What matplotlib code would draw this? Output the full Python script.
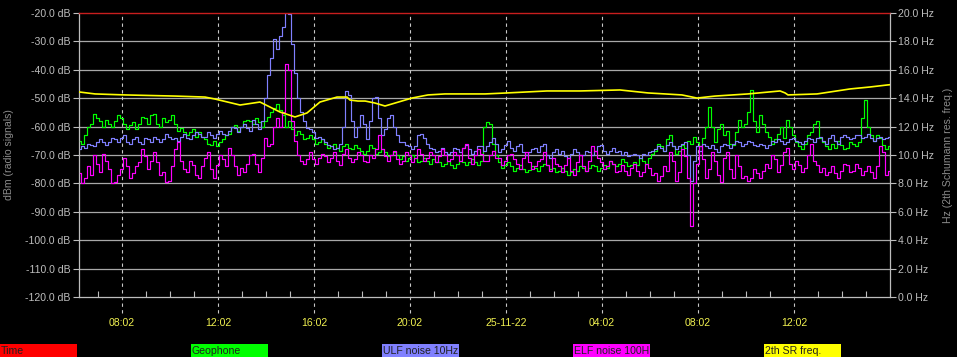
import numpy as np
import matplotlib
matplotlib.use("Agg")
import matplotlib.pyplot as plt
from matplotlib.patches import Rectangle

plt.rcParams['font.family'] = ['Liberation Sans', 'DejaVu Sans']

# ---------------- data ----------------
# time axis: hours after 06:02 on 24-11-22, readings every 7.5 minutes
t_start, t_end = 0.25, 34.0
xlim_hours = (0.21, 34.0)

geophone = [
    -65, -66, -63, -60, -59, -55.5, -57, -58, -60, -57.5, -59, -60, -58, -56, -57, -59,
    -61, -59.5, -58.5, -61, -59, -56.5, -57, -59, -56, -55.5, -59, -60, -57, -58.5, -57.5, -56,
    -59, -61.5, -60.5, -62, -63, -62, -61, -63.5, -62, -63.5, -64.5, -66, -66.5, -65, -67, -65.5,
    -64.5, -63, -62.5, -60, -59.5, -61.5, -60, -58, -57.5, -58, -59, -57, -58.5, -60, -58, -56.5,
    -55, -53.5, -52, -54, -56, -60, -58, -61, -63, -61.5, -62.5, -64.5, -64, -63, -64.5, -66,
    -65.5, -64.5, -66, -67.5, -67, -66, -67.5, -68.5, -67, -66, -67.5, -68, -66.5, -67.5, -68.5, -69.5,
    -68.5, -66.5, -67.5, -69.5, -69, -68, -69, -70.5, -70, -69, -70, -71.5, -70.5, -72, -71, -70,
    -71, -72.5, -72, -71, -72, -73, -71.5, -72.5, -72.5, -74, -73, -72, -73.5, -74.5, -73, -72,
    -72.5, -73.5, -72.5, -71.5, -72.5, -73.5, -72, -60, -58.5, -59, -66, -70, -72.5, -74.5, -73.5, -72.5,
    -74, -75.5, -74.5, -73.5, -75, -76, -75.3, -74, -74.5, -75.5, -74, -73, -73.5, -75, -74.5, -76,
    -75.5, -74.5, -75.5, -77, -76, -75, -75.5, -74, -74.5, -75.5, -74.5, -73.5, -74, -75.5, -74.5, -73.5,
    -74.5, -72, -73, -74, -73, -71.5, -72.5, -74, -73.5, -72.5, -73.5, -71, -72, -73, -71, -69.5,
    -68.5, -66, -67, -68.5, -64.5, -63, -67, -69.5, -68.5, -66.5, -67.5, -65, -66, -63.5, -65.5, -67,
    -64, -60, -53, -60, -65.5, -61, -59, -63, -61.5, -66, -66.5, -62, -57.5, -60, -59, -55,
    -47, -58, -62, -56, -59, -62, -63.5, -66, -64.5, -62.5, -60, -64, -57.5, -60, -63, -65.5,
    -67, -68, -66, -63, -62, -59, -58, -64, -65.5, -67, -68, -66, -67.5, -65, -66.5, -68,
    -67.5, -65.5, -66, -67, -65.5, -57, -50.5, -60, -63, -65, -63, -64, -66.5, -68, -67,
]

ulf_noise = [
    -68, -67, -67.5, -66, -66.5, -67, -65.5, -64.5, -65.5, -66.5, -65.5, -64, -64.5, -65.5, -64, -63,
    -65.5, -66, -64.5, -63.5, -65.5, -66, -64, -64.5, -65.5, -63.5, -64.5, -65.5, -64.5, -62.5, -63.5, -64.5,
    -64, -65, -63.5, -62.5, -64, -64.5, -63, -62, -62.5, -63.5, -63.5, -62, -63, -64, -62.5, -61.5,
    -62.5, -63, -61.5, -60, -60.5, -62, -60, -59, -60.5, -61.5, -57.5, -59, -61, -58, -50, -42,
    -36, -29, -32.5, -28, -25, -20, -20.5, -31, -41, -50, -55, -58, -60.5, -61, -62, -64,
    -63.5, -64.5, -65.5, -66.5, -67, -68, -67.5, -66, -60, -47.5, -49, -58, -63.5, -60, -56, -59,
    -64.5, -58, -50, -49.5, -57, -63, -61, -57, -56, -60, -63, -65.5, -65.5, -66.5, -67, -68,
    -67, -63, -62.5, -64, -66, -67.5, -68, -69, -68.5, -67.5, -69, -69.5, -69, -67.5, -68, -69,
    -67.5, -66.5, -68, -69.5, -68.5, -67, -67, -68.5, -67, -65.5, -64, -66, -69, -68, -66.5, -65,
    -67.5, -68.5, -67, -66, -69, -70, -69, -68, -67.5, -69, -67, -66, -70, -71, -69, -68,
    -69.5, -68.5, -70.5, -71, -69.5, -68, -69, -70, -70, -68.5, -69, -70, -68.5, -67, -66.5, -68.5,
    -69.5, -68.5, -67.5, -69, -68.5, -70, -69, -70.5, -70, -69.5, -70, -71, -69.5, -70, -69, -68.5,
    -68, -67, -67.5, -68.5, -66.5, -65.5, -67, -68, -67, -66, -65.5, -70, -79, -72, -67, -68.5,
    -66, -67, -67.5, -66.5, -68, -69, -67, -66, -66.5, -67.5, -66, -65, -65.5, -67, -66, -65,
    -65.5, -66.5, -67, -66, -66.5, -67.5, -66.5, -65, -65.5, -64.5, -65, -66, -65.5, -64.5, -64, -65,
    -65.5, -66, -65, -64, -64.5, -65.5, -64, -63.5, -65, -66, -64, -63, -65, -66, -63.5, -63,
    -63.5, -64.5, -64, -63, -63, -64, -63.5, -62.5, -64, -65, -64, -63.5, -64.5, -64, -63.5,
]

elf_noise = [
    -76.5, -80, -78, -74, -77, -70, -73, -76, -69.5, -72, -75, -80, -79.5, -77, -75, -71,
    -74, -78, -76.5, -74, -72.5, -68, -70.5, -75, -72, -69, -72.5, -77, -76, -79.5, -79, -74,
    -68, -65.5, -72, -75, -76, -72, -73.5, -77, -78, -74, -71, -69, -75, -78, -73.5, -70,
    -71.5, -74, -67.5, -70, -74, -77, -74.5, -76, -73, -70, -69.5, -73, -76, -71, -64, -67,
    -66, -60, -57, -60, -55, -38, -40, -58, -65, -70, -72, -73, -71.5, -69, -71.5, -73,
    -71, -69.5, -70.5, -72.5, -71, -69, -72, -73.5, -69.5, -68, -71, -72.5, -71.5, -69, -70, -72,
    -72.5, -70, -71, -68, -63, -68, -70.5, -72, -70, -68.5, -71.5, -73, -72, -69, -70, -72.5,
    -71, -68, -69.5, -72, -71, -69, -70, -72.5, -70.5, -68, -70, -72, -71.5, -69, -70, -72,
    -67.5, -66, -71, -73, -70, -68, -69.5, -72, -72, -70, -68.5, -71, -71, -73.5, -72, -70,
    -69.5, -71.5, -73, -75, -71, -69, -72.5, -75, -74, -72, -71.5, -69, -73.5, -75.5, -71, -73,
    -74, -76, -73.5, -71, -75.5, -77, -72.5, -70, -74, -75.5, -72, -67, -68.5, -71, -72.5, -75,
    -74, -72, -73, -76, -75.5, -73.5, -75.5, -77, -74.5, -73, -75.5, -77.5, -76, -73, -74.5, -77,
    -76.5, -79, -77.5, -74, -75.5, -69, -72, -79, -76, -68, -70.5, -78, -95, -80, -73, -67,
    -71.5, -78, -75, -69, -72, -77, -79.5, -71, -69, -75, -78, -70, -74, -78, -77.5, -79,
    -78, -75, -76.5, -78, -75.5, -73, -74.5, -70, -71.5, -76, -73.5, -69, -67.5, -73, -75, -72,
    -73.5, -76, -74.5, -70, -66, -72, -73.5, -76, -74.5, -77, -76, -74, -76.5, -78, -75.5, -73,
    -73.5, -76, -75.5, -73, -74.5, -77, -75.5, -74, -76, -78, -74, -67, -69, -77, -75.5,
]

# 2nd Schumann resonance frequency (Hz), read at irregular times (hours after 06:02)
sr_hours = [0.21, 0.88, 2.13, 4.21, 5.46, 5.88, 6.92, 7.75, 8.58, 9.21, 9.71, 10.25, 10.96, 11.38,
            11.5, 11.83, 12.13, 12.54, 12.96, 13.38, 14.08, 14.75, 15.46, 17.13, 18.04, 19.71,
            21.08, 22.75, 23.92, 25.33, 25.96, 26.71, 28.08, 29.42, 29.63, 29.75, 30.96, 32.33,
            33.17, 33.88, 34.0]
sr_freq = [14.44, 14.30, 14.23, 14.15, 14.08, 13.94, 13.52, 13.73, 13.03, 12.68, 12.96, 13.73, 14.08,
           14.08, 13.87, 13.80, 13.80, 13.66, 13.45, 13.66, 14.01, 14.23, 14.30, 14.30, 14.37, 14.51,
           14.51, 14.58, 14.37, 14.23, 14.01, 14.15, 14.30, 14.51, 14.37, 14.23, 14.30, 14.65,
           14.79, 14.93, 14.95]

time_level = -20.0

major_hours = [2, 6, 10, 14, 18, 22, 26, 30]
major_labels = ["08:02", "12:02", "16:02", "20:02", "25-11-22", "04:02", "08:02", "12:02"]
minor_hours = [h for h in range(1, 34) if h not in major_hours]

db_ticks = list(range(-120, -10, 10))
hz_ticks = list(range(0, 22, 2))

legend_names = ["Time", "Geophone", "ULF noise 10Hz", "ELF noise 100H", "2th SR freq."]
legend_colors = ["#ff0000", "#00ff00", "#8080ff", "#ff00ff", "#ffff00"]

# ---------------- figure ----------------
W, H = 957, 357
fig = plt.figure(figsize=(W / 100, H / 100), dpi=100, facecolor="black")
x0, x1, ytop, ybot = 79, 890, 13, 297
ax = fig.add_axes([x0 / W, 1 - ybot / H, (x1 - x0) / W, (ybot - ytop) / H])
ax.set_facecolor("black")

grid_c = "#a8a8a8"
for v in db_ticks[1:-1]:
    ax.axhline(v, color=grid_c, lw=0.9, zorder=1)

ax.set_xlim(*xlim_hours)
ax.set_ylim(-120, -20)

# dashed vertical gridlines extending below the axis
ext = 16 / (ybot - ytop) * 100
ax.vlines(major_hours, -120 - ext, -20, colors="#c8c8c8", linestyles=(0, (3, 3)),
          lw=0.8, clip_on=False, zorder=1)

for series, col, z in [(geophone, "#00ff00", 3), (ulf_noise, "#8080ff", 4),
                       (elf_noise, "#ff00ff", 5)]:
    tt = np.linspace(t_start, t_end, len(series))
    ax.plot(tt, series, color=col, lw=0.85, drawstyle="steps-mid", zorder=z)
ax.axhline(time_level, color="#c81e1e", lw=1.0, clip_on=False, zorder=6)

ax.set_yticks(db_ticks)
ax.set_yticklabels([f"{v:.1f} dB" for v in db_ticks])
ax.set_xticks(major_hours)
ax.set_xticklabels(major_labels)
ax.set_xticks(minor_hours, minor=True)

lab_c = "#bdbdbd"
ax.tick_params(axis="y", direction="out", length=4.5, width=0.8, color=lab_c,
               labelcolor=lab_c, labelsize=7.6, pad=1.5)
ax.tick_params(axis="x", which="major", length=0, pad=15, labelcolor="#f0f050", labelsize=7.6)
ax.tick_params(axis="x", which="minor", direction="in", length=4.5, width=0.8, color=lab_c)

for s in ["left", "bottom", "right"]:
    ax.spines[s].set_color(lab_c)
    ax.spines[s].set_linewidth(0.9)
ax.spines["top"].set_visible(False)

ax2 = ax.twinx()
ax2.set_ylim(0, 20)
ax2.plot(sr_hours, sr_freq, color="#ffff00", lw=1.2, zorder=6)
ax2.set_yticks(hz_ticks)
ax2.set_yticklabels([f"{v:.1f} Hz" for v in hz_ticks])
ax2.tick_params(axis="y", direction="out", length=4.5, width=0.8, color=lab_c,
                labelcolor=lab_c, labelsize=7.6, pad=1.5)
for s in ax2.spines.values():
    s.set_visible(False)
ax2.set_xlim(*xlim_hours)

axis_lab_c = "#8c8c8c"
fig.text(9 / W, 1 - 155 / H, "dBm (radio signals)", rotation=90, ha="center", va="center",
         color=axis_lab_c, fontsize=7.6)
fig.text(948 / W, 1 - 155 / H, "Hz (2th Schumann res. freq.)", rotation=90, ha="center",
         va="center", color=axis_lab_c, fontsize=7.6)

# bottom legend boxes
for i, (name, col) in enumerate(zip(legend_names, legend_colors)):
    bx = 191 * i
    fig.patches.append(Rectangle((bx / W, 0), 77 / W, 13 / H, transform=fig.transFigure,
                                 facecolor=col, edgecolor="none"))
    fig.text((bx + 1) / W, 6.5 / H, name, ha="left", va="center", color="#202020",
             fontsize=7.6)

fig.savefig("out.png", dpi=100, facecolor="black")
